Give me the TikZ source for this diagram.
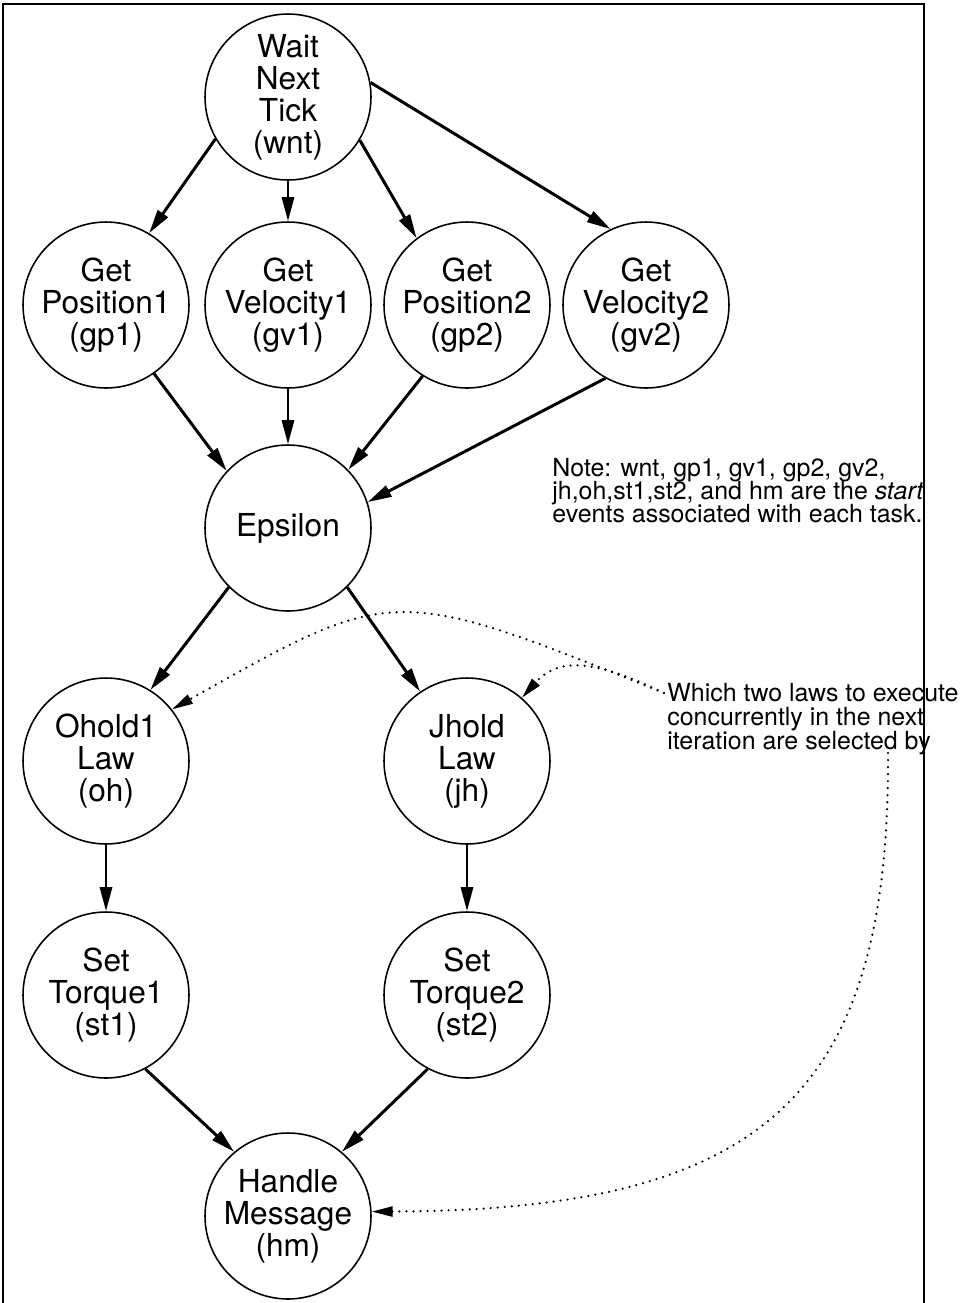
\documentclass[tikz,border=0pt]{standalone}
\usepackage{fontspec}
\setmainfont{TeX Gyre Heros}
\usetikzlibrary{arrows.meta}
\newcommand{\tightlines}{\lineskiplimit=-1cm\relax}

\begin{document}
\begin{tikzpicture}[
    x=0.02cm, y=-0.02cm,
    task/.style={circle, draw, line width=0.9pt, minimum size=3.32cm, inner sep=0pt, align=center, font=\fontsize{18}{18.2}\selectfont},
    flow/.style={line width=1.7pt, -{Triangle[length=0.48cm, width=0.24cm]}},
    select/.style={line width=1.4pt, line cap=round, dash pattern=on 0pt off 4pt, -{Triangle[length=0.42cm, width=0.2cm]}},
    remark/.style={anchor=north west, inner sep=0pt, align=left}
]
\useasboundingbox (0,0) rectangle (960,1303);

% Frame
\draw[line width=0.9pt] (3,1303) -- (3,4) -- (924,4) -- (924,1303);

% Tasks
\node[task] (wnt) at (288,97) {Wait\\Next\\Tick\\(wnt)};
\node[task] (gp1) at (106,305) {Get\\Position1\\(gp1)};
\node[task] (gv1) at (288,305) {Get\\Velocity1\\(gv1)};
\node[task] (gp2) at (467,305) {Get\\Position2\\(gp2)};
\node[task] (gv2) at (646,305) {Get\\Velocity2\\(gv2)};
\node[task] (eps) at (288,528) {Epsilon};
\node[task] (oh) at (106,761) {Ohold1\\Law\\(oh)};
\node[task] (jh) at (467,761) {Jhold\\Law\\(jh)};
\node[task] (st1) at (106,995) {Set\\Torque1\\(st1)};
\node[task] (st2) at (467,995) {Set\\Torque2\\(st2)};
\node[task] (hm) at (288,1216) {Handle\\Message\\(hm)};

% Notes
\node[remark, font=\fontsize{14.2}{13}\selectfont\tightlines] (note) at (552,458) {Note: wnt, gp1, gv1, gp2, gv2,\\jh,oh,st1,st2, and hm are the \textit{start}\\events associated with each task.};
\node[remark, font=\fontsize{14.2}{13.7}\selectfont\tightlines] (sel) at (667,683) {Which two laws to execute\\concurrently in the next\\iteration are selected by};
\coordinate (selw) at (664,693);
\coordinate (selb) at (888,753);

% Precedence
\draw[flow] (wnt.210) -- (gp1.59);
\draw[flow] (wnt.south) -- (gv1.north);
\draw[flow] (wnt.329) -- (gp2.127);
\draw[flow] (wnt.10) -- (gv2.115);

\draw[flow] (gp1.305) -- (eps.137);
\draw[flow] (gv1.south) -- (eps.north);
\draw[flow] (gp2.238) -- (eps.44);
\draw[flow] (gv2.241) -- (eps.18);

\draw[flow] (eps.225) -- (oh.58);
\draw[flow] (eps.315) -- (jh.124);
\draw[flow] (oh) -- (st1);
\draw[flow] (jh) -- (st2);

\draw[flow] (st1.298) -- (hm.130);
\draw[flow] (st2.242) -- (hm.50);

% Selection
\draw[select] (selw) .. controls (393,584) and (394,584) .. (oh.38);
\draw[select] (selw) .. controls (600,662) and (560,655) .. (jh.49);
\draw[select] (selb) .. controls (890,1100) and (760,1210) .. (hm.3);

\end{tikzpicture}
\end{document}
